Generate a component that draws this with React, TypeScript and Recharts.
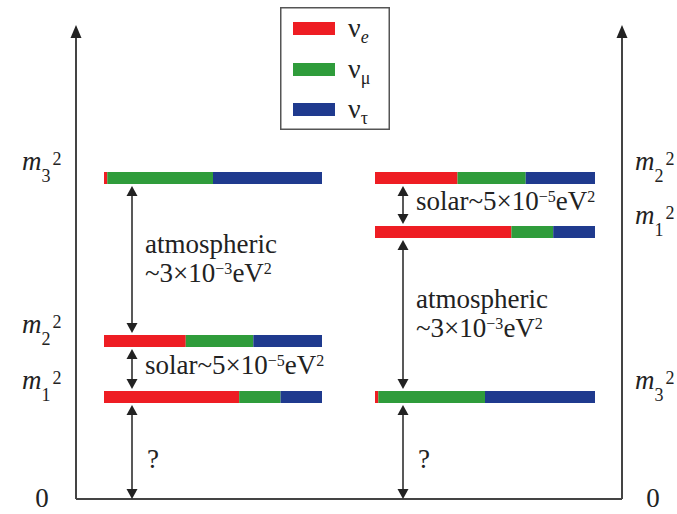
import React from "react";
import { ComposedChart, XAxis, YAxis, ReferenceArea, ReferenceLine, Legend, Scatter } from "recharts";

// flavours shown in every mass level
const flavorNames = ["e", "μ", "τ"];
const flavorColors = ["#ee1d23", "#2f9c3b", "#1f3a8e"];

// flavour content of each mass state, [νe, νμ, ντ]
const m1Mix = [0.62, 0.19, 0.19];
const m2Mix = [0.375, 0.31, 0.315];
const m3Mix = [0.015, 0.485, 0.5];

// heights of m1², m2², m3² (arbitrary units)
const normalLevels = [102, 158, 321];
const invertedLevels = [267, 321, 102];

// what is written next to each gap, bottom to top
const normalGaps = ["?", "solar", "atmospheric"];
const invertedGaps = ["?", "atmospheric", "solar"];

const W = 677;
const H = 514;
const X_MAX = 546;
const Y_MAX = 474;
const BAR_HALF = 6;
const FONT = "'Liberation Serif', 'Times New Roman', serif";
const INK = "#222";
const AXIS = "#444";

const mixes = [m1Mix, m2Mix, m3Mix];

const panels = [
  { id: "normal", axis: "l", levels: normalLevels, gaps: normalGaps, from: 28, to: 246, arrowX: 56 },
  { id: "inverted", axis: "r", levels: invertedLevels, gaps: invertedGaps, from: 299, to: 519, arrowX: 327 },
];

const segmentsOf = (p: (typeof panels)[number]) =>
  p.levels.flatMap((level, s) => {
    let start = p.from;
    return mixes[s].map((frac, f) => {
      const end = start + (p.to - p.from) * frac;
      const seg = { key: `${p.id}-${s}-${f}`, x1: start, x2: end, y: level, color: flavorColors[f] };
      start = end;
      return seg;
    });
  });

const gapsOf = (p: (typeof panels)[number]) => {
  const ys = [0, ...[...p.levels].sort((a, b) => a - b)];
  return p.gaps.map((label, i) => {
    const lo = i === 0 ? 0 : ys[i] + BAR_HALF + 2;
    const hi = ys[i + 1] - BAR_HALF - 2;
    return { key: `${p.id}-gap-${i}`, x: p.arrowX, lo, hi, mid: (lo + hi) / 2, label };
  });
};

const tri = (x: number, tip: number, dir: number, len: number, half: number) =>
  `${x},${tip} ${x - half},${tip + dir * len} ${x + half},${tip + dir * len}`;

const power = (lead: string, exp: string) => [
  <tspan key="a">{lead}10</tspan>,
  <tspan key="b" dy={-8} fontSize={16}>{"\u2212" + exp}</tspan>,
  <tspan key="c" dy={8}>eV</tspan>,
  <tspan key="d" dy={-8} fontSize={16}>2</tspan>,
];

function GapLabel(props: any) {
  const { cx, cy, payload } = props;
  const x = cx + 13;
  const t = { fontFamily: FONT, fontSize: 27, fill: INK };
  const kind = payload.label;
  if (kind === "?")
    return <text x={x + 2} y={cy + 16} {...t}>?</text>;
  if (kind === "solar")
    return <text x={x} y={cy + 5} {...t}>{power("solar~5×", "5")}</text>;
  return (
    <g>
      <text x={x} y={cy - 7} {...t}>atmospheric</text>
      <text x={x} y={cy + 22} {...t}>{power("~3×", "3")}</text>
    </g>
  );
}

const gapArrow = (props: any) => {
  const { x1, y1, y2 } = props;
  const top = Math.min(y1, y2);
  const bottom = Math.max(y1, y2);
  return (
    <g>
      <line x1={x1} x2={x1} y1={top + 9} y2={bottom - 9} stroke={INK} strokeWidth={1.5} />
      <polygon points={tri(x1, top, 1, 10, 5.5)} fill={INK} />
      <polygon points={tri(x1, bottom, -1, 10, 5.5)} fill={INK} />
    </g>
  );
};

const axisArrow = (props: any) => {
  const { x1, y1, y2 } = props;
  const top = Math.min(y1, y2);
  const bottom = Math.max(y1, y2);
  return (
    <g>
      <line x1={x1} x2={x1} y1={top + 10} y2={bottom} stroke={AXIS} strokeWidth={2} />
      <polygon points={tri(x1, top, 1, 13, 5.5)} fill={INK} />
    </g>
  );
};

function MassTick(props: any) {
  const { x, y, payload, levels, side } = props;
  const v = payload.value;
  const t = { fontFamily: FONT, fontSize: 27, fill: INK };
  if (v === 0)
    return (
      <text x={side === "left" ? x - 34 : x + 31} y={y + 8} textAnchor="middle" {...t}>0</text>
    );
  const n = levels.indexOf(v) + 1;
  return (
    <text x={side === "left" ? x - 54 : x + 13} y={y - 8} {...t}>
      <tspan fontStyle="italic">m</tspan>
      <tspan fontSize={18} dy={12}>{n}</tspan>
      <tspan fontSize={18} dy={-17} dx={2}>2</tspan>
    </text>
  );
}

function FlavorLegend() {
  return (
    <svg width={110} height={123} style={{ display: "block" }}>
      <rect x={0.75} y={0.75} width={108.5} height={121.5} fill="#fff" stroke="#555" strokeWidth={1.5} />
      {flavorNames.map((name, i) => {
        const top = [15, 56, 96][i];
        return (
          <g key={name}>
            <rect x={13} y={top} width={42} height={13} fill={flavorColors[i]} />
            <text x={68} y={top + 15} fontFamily={FONT} fontSize={28} fill={INK}>
              ν
              <tspan dy={6} fontSize={18} fontStyle={i === 0 ? "italic" : "normal"}>{name}</tspan>
            </text>
          </g>
        );
      })}
    </svg>
  );
}

export default function App() {
  return (
    <>
      <style>{"body{margin:0}"}</style>
      <ComposedChart width={W} height={H} margin={{ top: 25, right: 0, bottom: 15, left: 0 }}>
        <XAxis type="number" dataKey="x" domain={[0, X_MAX]} hide />
        <YAxis
          yAxisId="l"
          type="number"
          domain={[0, Y_MAX]}
          ticks={[0, ...normalLevels]}
          interval={0}
          width={76}
          axisLine={false}
          tickLine={false}
          tickSize={0}
          tickMargin={0}
          tick={<MassTick levels={normalLevels} side="left" />}
        />
        <YAxis
          yAxisId="r"
          orientation="right"
          type="number"
          domain={[0, Y_MAX]}
          ticks={[0, ...invertedLevels]}
          interval={0}
          width={55}
          axisLine={false}
          tickLine={false}
          tickSize={0}
          tickMargin={0}
          tick={<MassTick levels={invertedLevels} side="right" />}
        />
        <ReferenceLine yAxisId="l" y={0} stroke={AXIS} strokeWidth={2} />
        <ReferenceLine yAxisId="l" segment={[{ x: 0, y: 0 }, { x: 0, y: Y_MAX }]} shape={axisArrow} />
        <ReferenceLine yAxisId="r" segment={[{ x: X_MAX, y: 0 }, { x: X_MAX, y: Y_MAX }]} shape={axisArrow} />
        {panels.flatMap((p) =>
          segmentsOf(p).map((s) => (
            <ReferenceArea
              key={s.key}
              yAxisId={p.axis}
              x1={s.x1}
              x2={s.x2}
              y1={s.y - BAR_HALF}
              y2={s.y + BAR_HALF}
              fill={s.color}
              fillOpacity={1}
              stroke="none"
            />
          ))
        )}
        {panels.flatMap((p) =>
          gapsOf(p).map((g) => (
            <ReferenceLine
              key={g.key}
              yAxisId={p.axis}
              segment={[{ x: g.x, y: g.lo }, { x: g.x, y: g.hi }]}
              shape={gapArrow}
            />
          ))
        )}
        {panels.map((p) => (
          <Scatter
            key={p.id}
            yAxisId={p.axis}
            data={gapsOf(p)}
            dataKey="mid"
            shape={<GapLabel />}
            isAnimationActive={false}
          />
        ))}
        <Legend
          layout="vertical"
          align="center"
          verticalAlign="middle"
          wrapperStyle={{ left: 280, top: 7, width: 110, height: 123 }}
          content={() => <FlavorLegend />}
        />
      </ComposedChart>
    </>
  );
}
